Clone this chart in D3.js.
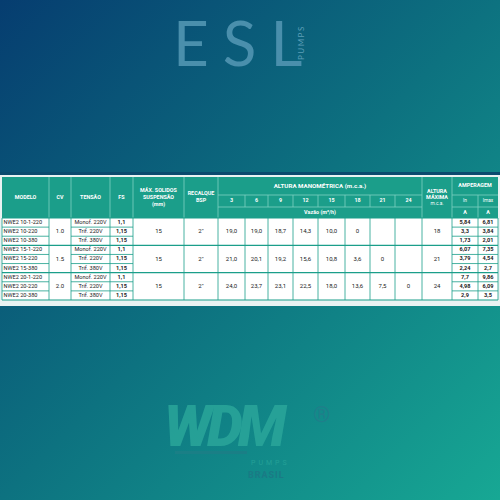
<!DOCTYPE html>
<html><head><meta charset="utf-8">
<script src="https://cdn.jsdelivr.net/npm/d3@7"></script>
<style>body{margin:0}svg{display:block}</style>
</head><body>
<script>
// table data
const modelos = ["NWE2 10-1-220","NWE2 10-220","NWE2 10-380","NWE2 15-1-220","NWE2 15-220","NWE2 15-380","NWE2 20-1-220","NWE2 20-220","NWE2 20-380"];
const tensoes = ["Monof. 220V","Trif. 220V","Trif. 380V"];
const fs = ["1,1","1,15","1,15"];
const cv = ["1.0","1.5","2.0"];
const solidos = ["15","15","15"];
const recalque = ["2\"","2\"","2\""];
const vazoes = ["3","6","9","12","15","18","21","24"];
const alturas = [
  ["19,0","19,0","18,7","14,3","10,0","0","",""],
  ["21,0","20,1","19,2","15,6","10,8","3,6","0",""],
  ["24,0","23,7","23,1","22,5","18,0","13,6","7,5","0"]
];
const alturaMax = ["18","21","24"];
const ampIn = ["5,84","3,3","1,73","6,07","3,79","2,24","7,7","4,98","2,9"];
const ampMax = ["6,81","3,84","2,01","7,35","4,54","2,7","9,86","6,09","3,5"];

const W = 500, H = 500;
const svg = d3.select("body").append("svg").attr("width", W).attr("height", H);
const defs = svg.append("defs");
const g = defs.append("linearGradient").attr("id","bg").attr("x1","0").attr("y1","0").attr("x2","1").attr("y2","1");
g.append("stop").attr("offset","0").attr("stop-color","#063d70");
g.append("stop").attr("offset","0.5").attr("stop-color","#0d7280");
g.append("stop").attr("offset","1").attr("stop-color","#17a894");
svg.append("rect").attr("width",W).attr("height",H).attr("fill","url(#bg)");

// logos
svg.append("text").attr("x",173).attr("y",66).attr("font-family","Lato, sans-serif").attr("font-size",62)
  .attr("letter-spacing",14).attr("fill","#4a8fac").text("ESL");
svg.append("text").attr("transform","translate(304,60) rotate(-90)").attr("font-family","Lato, sans-serif")
  .attr("font-size",8).attr("letter-spacing",1.5).attr("fill","#5d9fb8").text("PUMPS");
svg.append("text").attr("x",164).attr("y",446).attr("font-family","Roboto, sans-serif").attr("font-weight",900)
  .attr("font-style","italic").attr("font-size",57).attr("letter-spacing",-5).attr("fill","#2aa69a").attr("opacity",0.85).text("WDM");
svg.append("rect").attr("x",175).attr("y",451).attr("width",72).attr("height",3).attr("fill","#1a7f86");
svg.append("text").attr("x",313).attr("y",422).attr("font-family","Roboto, sans-serif").attr("font-size",22).attr("fill","#1f7f8a").text("®");
svg.append("text").attr("x",251).attr("y",465).attr("font-family","Roboto, sans-serif").attr("font-size",7)
  .attr("letter-spacing",3).attr("fill","#23a097").text("PUMPS");
svg.append("text").attr("x",248).attr("y",478).attr("font-family","Roboto, sans-serif").attr("font-weight",700)
  .attr("font-size",9).attr("letter-spacing",1).attr("fill","#1a7a85").text("BRASIL");

// column edges
const cols = [2,49,71,110,133,184,218,245,268,293,318,345,370,395,422,452,478,498];
const tTop = 177, hr1 = 195, hr2 = 207, bodyTop = 218, bodyBot = 300;
const green = "#1b9e8a", line = "#1b9e8a";
const font = "Roboto, 'Liberation Sans', sans-serif";

svg.append("rect").attr("x",0).attr("y",172).attr("width",W).attr("height",134).attr("fill","#e9f2f2");
svg.append("rect").attr("x",0).attr("y",172).attr("width",W).attr("height",3).attr("fill","#0b4a6e");
svg.append("rect").attr("x",cols[0]).attr("y",tTop).attr("width",cols[17]-cols[0]).attr("height",bodyTop-tTop).attr("fill",green);
svg.append("rect").attr("x",cols[0]).attr("y",bodyTop).attr("width",cols[17]-cols[0]).attr("height",bodyBot-bodyTop).attr("fill","#fff");

const y = d3.scaleBand().domain(d3.range(9)).range([bodyTop, bodyBot]);
const yg = d3.scaleBand().domain(d3.range(3)).range([bodyTop, bodyBot]);
const cx = i => (cols[i]+cols[i+1])/2;

function t(x, yy, s, opt={}) {
  svg.append("text").attr("x",x).attr("y",yy).attr("text-anchor",opt.anchor||"middle")
    .attr("dominant-baseline","middle").attr("font-family",font).attr("font-size",opt.size||6)
    .attr("font-weight",opt.bold?700:400).attr("fill",opt.fill||"#222").text(s);
}
const wh = {fill:"#fff", bold:true, size:5.4};
const hmid = (tTop+bodyTop)/2;
t(cx(0),hmid,"MODELO",wh); t(cx(1),hmid,"CV",wh); t(cx(2),hmid,"TENSÃO",wh); t(cx(3),hmid,"FS",wh);
t(cx(4),hmid-7,"MÁX. SOLIDOS",wh); t(cx(4),hmid,"SUSPENSÃO",wh); t(cx(4),hmid+7,"(mm)",wh);
t(cx(5),hmid-4,"RECALQUE",wh); t(cx(5),hmid+3,"BSP",wh);
t((cols[6]+cols[14])/2,(tTop+hr1)/2,"ALTURA MANOMÉTRICA  (m.c.a.)",{fill:"#fff",bold:true,size:6.2});
vazoes.forEach((v,i)=>t(cx(6+i),(hr1+hr2)/2,v,wh));
t((cols[6]+cols[14])/2,(hr2+bodyTop)/2,"Vazão (m³/h)",wh);
t(cx(14),hmid-6,"ALTURA",wh); t(cx(14),hmid,"MÁXIMA",wh); t(cx(14),hmid+6,"m.c.a.",{fill:"#fff",size:4.8});
t((cols[15]+cols[17])/2,(tTop+hr1)/2,"AMPERAGEM",wh);
t(cx(15),(hr1+hr2)/2,"In",{fill:"#fff",size:4.8}); t(cx(16),(hr1+hr2)/2,"Imax",{fill:"#fff",size:4.8});
t(cx(15),(hr2+bodyTop)/2,"A",wh); t(cx(16),(hr2+bodyTop)/2,"A",wh);

// header lines
const ln = (x1,y1,x2,y2,c,w) => svg.append("line").attr("x1",x1).attr("y1",y1).attr("x2",x2).attr("y2",y2).attr("stroke",c).attr("stroke-width",w||0.8);
const hl = "#7fd0c2";
cols.slice(1,17).forEach((x,i)=>{
  const k=i+1;
  if (k>=7 && k<=13) ln(x,hr1,x,hr2,hl); else if (k===16) ln(x,hr1,x,bodyTop,hl); else ln(x,tTop,x,bodyTop,hl);
});
ln(cols[6],hr1,cols[14],hr1,hl); ln(cols[6],hr2,cols[14],hr2,hl);
ln(cols[15],hr1,cols[17],hr1,hl); ln(cols[15],hr2,cols[17],hr2,hl);

// body
modelos.forEach((m,i)=>{
  const yy = y(i)+y.bandwidth()/2;
  t(cols[0]+1.5,yy,m,{anchor:"start",size:5.6});
  t(cx(2),yy,tensoes[i%3],{size:5.6});
  t(cx(3),yy,fs[i%3],{size:5.6,bold:true});
  t(cx(15),yy,ampIn[i],{size:5.6,bold:true});
  t(cx(16),yy,ampMax[i],{size:5.6,bold:true});
});
d3.range(3).forEach(gI=>{
  const yy = yg(gI)+yg.bandwidth()/2;
  t(cx(1),yy,cv[gI]); t(cx(4),yy,solidos[gI]); t(cx(5),yy,recalque[gI]);
  alturas[gI].forEach((a,j)=>t(cx(6+j),yy,a));
  t(cx(14),yy,alturaMax[gI]);
});
// body grid
cols.forEach(x=>ln(x,bodyTop,x,bodyBot,line));
d3.range(1,9).forEach(i=>{
  const yy=y(i);
  if (i%3===0) ln(cols[0],yy,cols[17],yy,line,1.2);
  else { ln(cols[0],yy,cols[1],yy,line); ln(cols[2],yy,cols[4],yy,line); ln(cols[15],yy,cols[17],yy,line); }
});
ln(cols[0],bodyBot,cols[17],bodyBot,line,1.2);
ln(cols[0],bodyTop,cols[17],bodyTop,line,1);
</script>
</body></html>
